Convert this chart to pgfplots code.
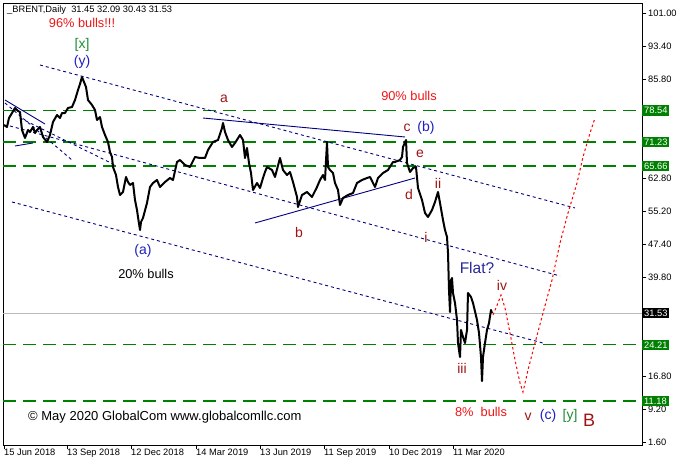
\documentclass[border=0pt]{standalone}
\usepackage{pgfplots}
\pgfplotsset{compat=1.18}
\usepackage{fontspec}
\setmainfont{Liberation Sans}

\definecolor{mtgreen}{RGB}{0,128,0}
\definecolor{navy}{RGB}{0,0,128}
\definecolor{wred}{RGB}{160,20,20}
\definecolor{wblue}{RGB}{30,30,190}
\definecolor{flatc}{RGB}{40,40,150}
\definecolor{bullred}{RGB}{240,20,20}
\definecolor{brgreen}{RGB}{30,140,50}

\newcommand{\fs}[1]{\fontsize{#1bp}{#1bp}\selectfont}

\begin{document}
\begin{tikzpicture}
\begin{axis}[
    at={(3bp,21bp)}, anchor=south west,
    scale only axis, width=639bp, height=442bp,
    xmin=-1, xmax=638, ymin=0.97, ymax=103.46,
    clip=false,
    axis line style={black, line width=0.8bp},
    xtick={0,63,127,192,256,320,385,449},
    xticklabels={15 Jun 2018,13 Sep 2018,12 Dec 2018,14 Mar 2019,13 Jun 2019,11 Sep 2019,10 Dec 2019,11 Mar 2020},
    ytick={1.6,9.2,16.8,39.8,47.4,55.2,62.8,85.8,93.4,101},
    xtick pos=bottom, ytick pos=right, yticklabel pos=right,
    tick align=outside, major tick length=4bp,
    tick style={black, line width=0.8bp},
    /pgf/number format/assume math mode=true,
    ticklabel style={font=\fs{9.3}},
    yticklabel style={/pgf/number format/fixed, /pgf/number format/precision=2,
        /pgf/number format/fixed zerofill, anchor=west, inner sep=0pt, xshift=2bp},
    xticklabel style={anchor=north west, inner sep=0pt},
]

% horizontal levels
\addplot[mtgreen, line width=1.1bp, dash pattern=on 13bp off 7bp] coordinates {(-1,78.54) (638,78.54)};
\addplot[mtgreen, line width=1.1bp, dash pattern=on 13bp off 7bp] coordinates {(-1,71.23) (638,71.23)};
\addplot[mtgreen, line width=1.1bp, dash pattern=on 13bp off 7bp] coordinates {(-1,65.66) (638,65.66)};
\addplot[mtgreen, line width=1.1bp, dash pattern=on 13bp off 7bp] coordinates {(-1,24.21) (638,24.21)};
\addplot[mtgreen, line width=1.1bp, dash pattern=on 13bp off 7bp] coordinates {(-1,11.18) (638,11.18)};
\addplot[gray!55, line width=0.8bp] coordinates {(-1,31.53) (638,31.53)};

% channel lines
\addplot[navy, line width=0.9bp, dash pattern=on 3bp off 3bp] coordinates {(36,89.08) (571,55.93)};
\addplot[navy, line width=0.9bp, dash pattern=on 3bp off 3bp] coordinates {(6,74.94) (556,40.16)};
\addplot[navy, line width=0.9bp, dash pattern=on 3bp off 3bp] coordinates {(8,57.32) (539,24.62)};
\addplot[navy, line width=0.9bp, dash pattern=on 3bp off 3bp] coordinates {(1,80.27) (68,67.05)};
\addplot[navy, line width=0.9bp, dash pattern=on 3bp off 3bp] coordinates {(16,76.79) (111,65.90)};
\addplot[navy, line width=0.9bp] coordinates {(1,80.97) (41,75.40)};
\addplot[navy, line width=0.9bp] coordinates {(11,70.30) (29,71.00)};
\addplot[navy, line width=0.9bp] coordinates {(199,76.79) (401,72.39)};
\addplot[navy, line width=0.9bp] coordinates {(251,52.45) (411,62.88)};

% price
\addplot[black, line width=2bp, line join=round] coordinates {
(0,75.17) (3,74.71) (5,76.79) (8,77.95) (11,79.11) (14,78.42) (16,78.18) (18,74.01)
(21,72.16) (24,74.01) (26,73.55) (29,74.71) (31,73.32) (33,74.01) (36,74.71) (39,72.39)
(43,71.23) (46,72.85) (49,75.87) (53,77.49) (56,76.79) (58,77.95) (61,77.95) (64,79.11)
(68,79.34) (71,80.97) (74,83.29) (76,84.68) (78,86.30) (80,85.14) (82,83.98) (84,80.97)
(88,79.81) (91,78.65) (93,76.33) (96,77.02) (98,74.71) (101,72.85) (104,71.23) (106,68.91)
(108,67.75) (109,65.43) (112,63.58) (114,60.79) (116,58.94) (119,59.64) (122,63.12) (124,61.95)
(126,61.26) (129,61.72) (131,57.78) (133,55.46) (134,53.84) (136,50.83) (137,52.68) (139,53.61)
(143,57.09) (146,60.79) (149,61.72) (153,62.42) (156,60.79) (161,61.95) (166,62.88) (169,62.42)
(173,66.59) (176,67.05) (181,65.90) (186,65.43) (191,67.75) (196,67.52) (201,67.52) (204,69.37)
(209,71.23) (214,71.69) (218,74.47) (219,75.64) (221,73.55) (224,71.69) (228,70.07) (231,71.00)
(236,72.85) (239,71.69) (241,67.52) (243,69.84) (245,66.36) (247,64.04) (249,60.10) (253,61.72)
(256,60.56) (259,62.88) (261,64.27) (263,65.43) (268,64.74) (271,63.12) (276,67.52) (279,64.74)
(283,63.58) (286,64.27) (289,61.95) (293,58.48) (294,56.16) (298,58.94) (303,59.64) (308,58.48)
(313,60.79) (316,62.42) (319,63.58) (321,62.42) (323,71.23) (324,65.43) (326,64.74) (329,64.04)
(331,61.72) (334,60.10) (336,56.62) (339,58.24) (344,58.94) (349,59.40) (353,61.72) (358,62.42)
(363,62.88) (366,63.12) (369,61.72) (371,60.79) (374,62.88) (379,64.04) (384,64.74) (389,66.59)
(391,66.59) (396,67.05) (398,67.75) (399,70.07) (402,71.69) (403,66.36) (406,64.27) (409,65.20)
(412,65.43) (414,60.56) (418,57.78) (421,54.77) (424,53.84) (428,55.46) (431,57.32) (434,59.64)
(436,57.09) (439,53.14) (441,50.83) (443,49.20) (444,45.49) (445,36.91) (446,31.81) (447,39.23)
(448,39.69) (449,36.22) (451,33.90) (453,29.96) (454,24.62) (456,21.38) (457,27.64) (459,26.01)
(461,24.62) (463,27.64) (464,36.22) (467,35.29) (469,33.90) (473,29.96) (475,26.94) (477,21.38)
(478,15.81) (479,21.38) (481,24.62) (483,27.64) (485,29.26) (487,32.28) (488,31.58)
};

% projected path
\addplot[red, line width=1bp, dash pattern=on 2.5bp off 2.5bp] coordinates {
(489,31.12) (494,33.90) (497,35.76) (501,32.74) (506,26.94) (511,20.68) (516,15.35) (519,13.26)
(524,18.36) (531,24.62) (539,31.58) (548,39.23) (556,47.81) (564,54.77) (573,61.72) (579,67.75)
(586,73.32) (591,76.79)
};

% price labels on the scale
\node[fill=mtgreen, text=white, font=\fs{9.3}, inner xsep=2bp, inner ysep=1.8bp, anchor=west] at (axis cs:638,78.54) {78.54};
\node[fill=mtgreen, text=white, font=\fs{9.3}, inner xsep=2bp, inner ysep=1.8bp, anchor=west] at (axis cs:638,71.23) {71.23};
\node[fill=mtgreen, text=white, font=\fs{9.3}, inner xsep=2bp, inner ysep=1.8bp, anchor=west] at (axis cs:638,65.66) {65.66};
\node[fill=black, text=white, font=\fs{9.3}, inner xsep=2bp, inner ysep=1.8bp, anchor=west] at (axis cs:638,31.53) {31.53};
\node[fill=mtgreen, text=white, font=\fs{9.3}, inner xsep=2bp, inner ysep=1.8bp, anchor=west] at (axis cs:638,24.21) {24.21};
\node[fill=mtgreen, text=white, font=\fs{9.3}, inner xsep=2bp, inner ysep=1.8bp, anchor=west] at (axis cs:638,11.18) {11.18};

% annotations
\node[anchor=west, inner sep=0pt, font=\fs{9.3}] at (axis cs:3,101.83) {\_BRENT,Daily\ \ 31.45 32.09 30.43 31.53};
\node[text=bullred, font=\fs{12.8}] at (axis cs:78,98.82) {96\% bulls!!!};
\node[text=brgreen, font=\fs{14}] at (axis cs:78,93.72) {[x]};
\node[text=wblue, font=\fs{14}] at (axis cs:78,89.78) {(y)};
\node[text=wred, font=\fs{14}] at (axis cs:220,81.2) {a};
\node[text=bullred, font=\fs{12.8}] at (axis cs:405,81.89) {90\% bulls};
\node[text=wred, font=\fs{14}] at (axis cs:403,74.47) {c};
\node[text=wblue, font=\fs{14}] at (axis cs:422,74.47) {(b)};
\node[text=wred, font=\fs{14}] at (axis cs:416,68.45) {e};
\node[text=wred, font=\fs{14}] at (axis cs:405,58.94) {d};
\node[text=wred, font=\fs{14}] at (axis cs:434,61.72) {ii};
\node[text=wred, font=\fs{14}] at (axis cs:422,49.20) {i};
\node[text=wred, font=\fs{14}] at (axis cs:295,50.13) {b};
\node[text=wblue, font=\fs{14}] at (axis cs:139,45.96) {(a)};
\node[text=black, font=\fs{12.8}] at (axis cs:142,40.62) {20\% bulls};
\node[text=flatc, font=\fs{15.5}] at (axis cs:473,42.02) {Flat?};
\node[text=wred, font=\fs{14}] at (axis cs:498,38.07) {iv};
\node[text=wred, font=\fs{14}] at (axis cs:458,18.83) {iii};
\node[text=bullred, font=\fs{12.8}] at (axis cs:477,8.63) {8\%\ \ bulls};
\node[text=wred, font=\fs{14}] at (axis cs:524,7.47) {v};
\node[text=wblue, font=\fs{14}] at (axis cs:544,7.70) {(c)};
\node[text=brgreen, font=\fs{14}] at (axis cs:566,7.70) {[y]};
\node[text=wred, font=\fs{18}] at (axis cs:585,6.77) {B};
\node[anchor=west, inner sep=0pt, font=\fs{13}] at (axis cs:24,7.47) {© May 2020 GlobalCom www.globalcomllc.com};

\end{axis}
\pgfresetboundingbox
\path[use as bounding box] (0,0) rectangle (683bp,466bp);
\end{tikzpicture}
\end{document}
